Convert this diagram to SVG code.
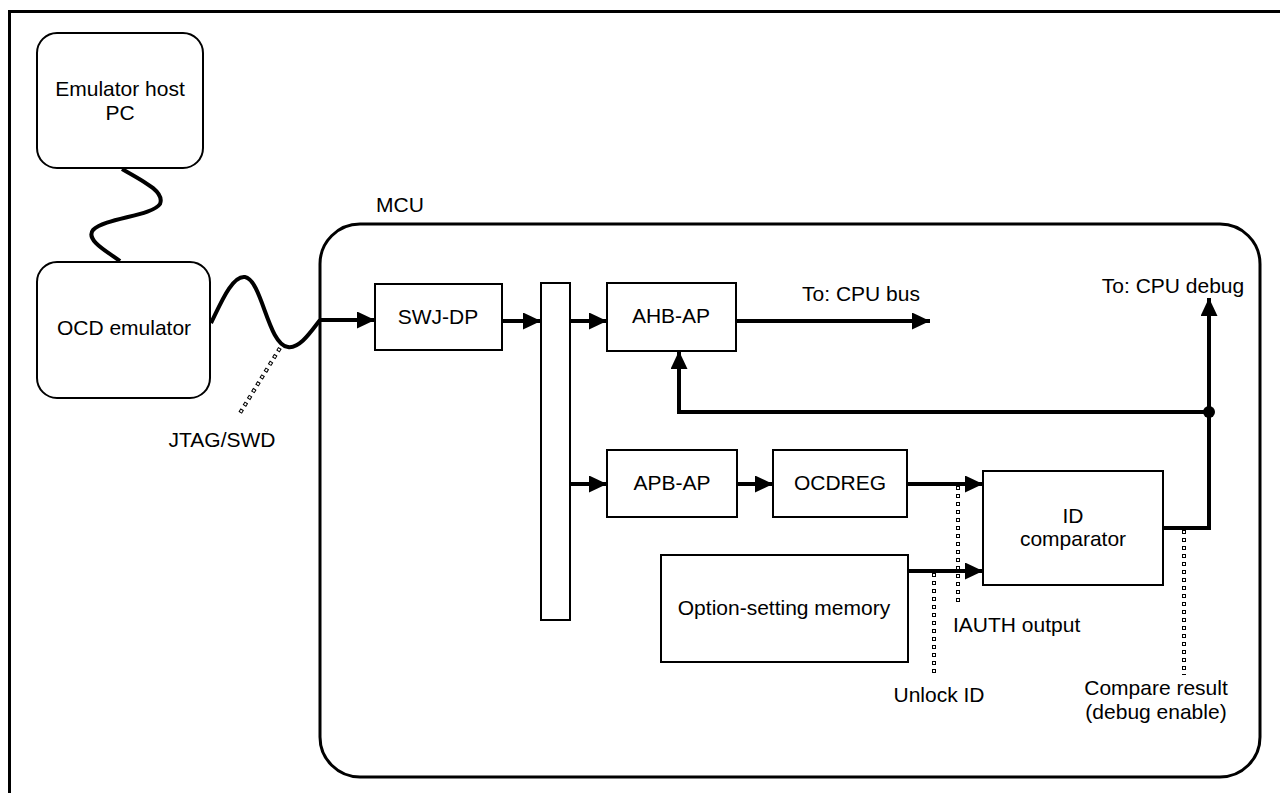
<svg xmlns="http://www.w3.org/2000/svg" width="1280" height="793" viewBox="0 0 1280 793">
<style>
text{font-family:"Liberation Sans",Arial,sans-serif;font-size:21px;fill:#000}
.c{text-anchor:middle}
.box{fill:#fff;stroke:#000;stroke-width:2}
.thick{fill:none;stroke:#000;stroke-width:4}
.dotb{fill:none;stroke:#000;stroke-width:4;stroke-dasharray:4 4}
.dotw{fill:none;stroke:#fff;stroke-width:2;stroke-dasharray:2 6;stroke-dashoffset:-1}
</style>
<defs>
<marker id="ah" viewBox="0 0 18 17" refX="18" refY="8.5" markerWidth="18" markerHeight="17" markerUnits="userSpaceOnUse" orient="auto">
<path d="M0,0 L18,8.5 L0,17 z" fill="#000"/>
</marker>
</defs>
<rect width="1280" height="793" fill="#fff"/>
<g id="frame"><path d="M9.5,800 V11.5 H1290" fill="none" stroke="#000" stroke-width="3"/></g>
<g id="mcu">
<rect x="320" y="224" width="940" height="553" rx="40" fill="none" stroke="#000" stroke-width="3"/>
<text x="400" y="212" class="c">MCU</text>
</g>
<g id="host">
<rect x="37" y="33" width="166" height="135" rx="20" class="box"/>
<text x="120" y="96" class="c">Emulator host</text>
<text x="120" y="120" class="c">PC</text>
</g>
<g id="ocd">
<rect x="37" y="262" width="173" height="136" rx="20" class="box"/>
<text x="124" y="335" class="c">OCD emulator</text>
</g>
<g id="swjdp"><rect x="375" y="284" width="127" height="66" class="box"/><text x="438" y="324" class="c">SWJ-DP</text></g>
<g id="bus"><rect x="541" y="283" width="29" height="337" class="box"/></g>
<g id="ahbap"><rect x="607" y="283" width="129" height="68" class="box"/><text x="671" y="323" class="c">AHB-AP</text></g>
<g id="apbap"><rect x="607" y="450" width="130" height="67" class="box"/><text x="672" y="490" class="c">APB-AP</text></g>
<g id="ocdreg"><rect x="773" y="450" width="134" height="67" class="box"/><text x="840" y="490" class="c">OCDREG</text></g>
<g id="idcomp"><rect x="983" y="471" width="180" height="114" class="box"/><text x="1073" y="523" class="c">ID</text><text x="1073" y="546" class="c">comparator</text></g>
<g id="osm"><rect x="661" y="555" width="247" height="107" class="box"/><text x="784" y="615" class="c">Option-setting memory</text></g>
<g id="connectors">
<path d="M122,169 C145,182 165,192 160,204 C152,216 105,218 93,230 C85,240 108,252 120,261" class="thick"/>
<path d="M211,323 C220,305 232,275 245,277 C262,280 268,345 288,347 C300,349 312,330 320,320" class="thick"/>
<path d="M320,320 H375" class="thick" marker-end="url(#ah)"/>
<path d="M502,321 H541" class="thick" marker-end="url(#ah)"/>
<path d="M570,321 H607" class="thick" marker-end="url(#ah)"/>
<path d="M570,484 H607" class="thick" marker-end="url(#ah)"/>
<path d="M737,484 H773" class="thick" marker-end="url(#ah)"/>
<path d="M736,321 H930" class="thick" marker-end="url(#ah)"/>
<path d="M907,484 H983" class="thick" marker-end="url(#ah)"/>
<path d="M908,571 H983" class="thick" marker-end="url(#ah)"/>
<path d="M1163,528 H1209 V298" class="thick" marker-end="url(#ah)"/>
<path d="M1209,412 H679 V351" class="thick" marker-end="url(#ah)"/>
<circle cx="1209" cy="412" r="6" fill="#000"/>
<path d="M280,348 L240,413" class="dotb"/><path d="M280,348 L240,413" class="dotw"/>
<path d="M934,573 V677" class="dotb"/><path d="M934,573 V677" class="dotw"/>
<path d="M958,486 V603" class="dotb"/><path d="M958,486 V603" class="dotw"/>
<path d="M1184,530 V675" class="dotb"/><path d="M1184,530 V675" class="dotw"/>
</g>
<g id="labels">
<text x="222" y="447" class="c">JTAG/SWD</text>
<text x="861" y="301" class="c">To: CPU bus</text>
<text x="1173" y="293" class="c">To: CPU debug</text>
<text x="953" y="632">IAUTH output</text>
<text x="939" y="702" class="c">Unlock ID</text>
<text x="1156" y="695" class="c">Compare result</text>
<text x="1156" y="719" class="c">(debug enable)</text>
</g>
</svg>
